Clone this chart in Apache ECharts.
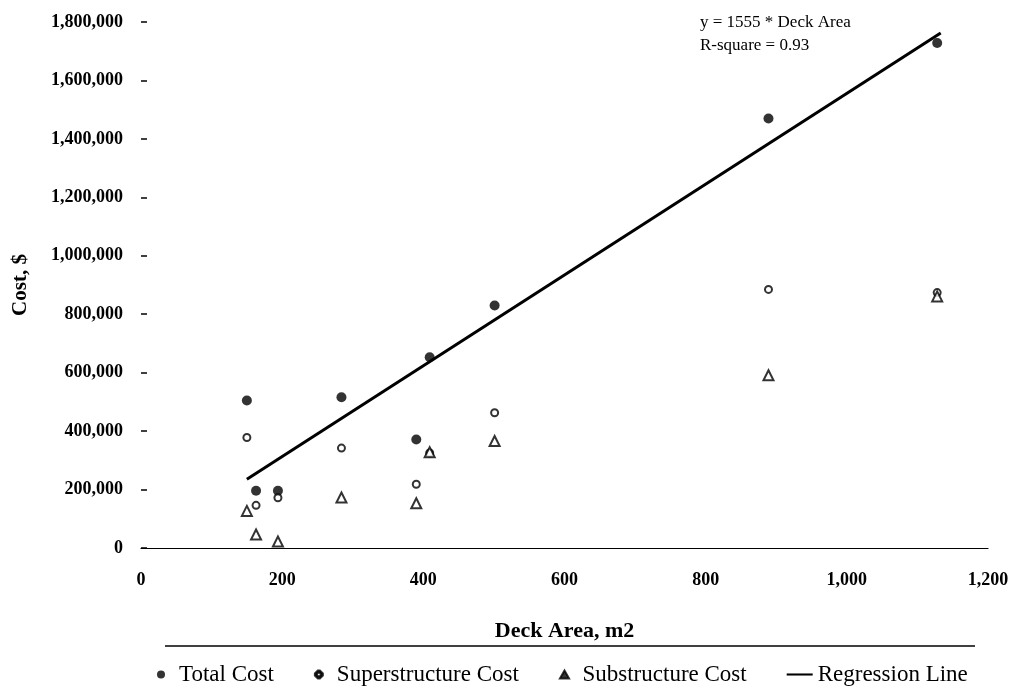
<!DOCTYPE html>
<html>
<head>
<meta charset="utf-8">
<script src="https://cdn.jsdelivr.net/npm/echarts@6/dist/echarts.min.js"></script>
<style>
html,body{margin:0;padding:0;background:#fff;}
#chart{width:1019px;height:691px;}
</style>
</head>
<body>
<div id="chart"></div>
<script>
// ---- data ----
const deckArea      = [150, 163, 194, 284, 390, 409, 501, 889, 1128];
const totalCost     = [505000, 196000, 196000, 516000, 371000, 653000, 830000, 1470000, 1728000];
const superCost     = [378000, 146000, 172000, 342000, 218000, 325000, 463000, 885000, 874000];
const subCost       = [127000, 46000, 22000, 173000, 153000, 328000, 366000, 591000, 861000];
const regressionX   = [150, 1133];
const regressionY   = [235000, 1762000];
const seriesNames   = ['Total Cost', 'Superstructure Cost', 'Substructure Cost', 'Regression Line'];
const annotation    = ['y = 1555 * Deck Area', 'R-square = 0.93'];

const pairs = (xs, ys) => xs.map((x, i) => [x, ys[i]]);
const FONT = '"Liberation Serif", "DejaVu Serif", serif';
const RING = 'path://M3,0 L5,0 L8,3 L8,5 L5,8 L3,8 L0,5 L0,3 Z M3.4,2.2 L2.2,3.4 L2.2,4.6 L3.4,5.8 L4.6,5.8 L5.8,4.6 L5.8,3.4 L4.6,2.2 Z';

const chart = echarts.init(document.getElementById('chart'), null, {renderer: 'canvas'});
chart.setOption({
  backgroundColor: '#fff',
  animation: false,
  textStyle: {fontFamily: FONT, color: '#000'},
  grid: {left: 141, right: 31, top: 22, bottom: 143, containLabel: false},
  xAxis: {
    type: 'value', min: 0, max: 1200, interval: 200,
    name: 'Deck Area, m2', nameLocation: 'middle', nameGap: 72,
    nameTextStyle: {fontFamily: FONT, fontSize: 22, fontWeight: 'bold', color: '#000'},
    axisLine: {show: true, lineStyle: {color: '#000', width: 1.2}},
    axisTick: {show: false},
    splitLine: {show: false},
    axisLabel: {fontFamily: FONT, fontSize: 18, fontWeight: 'bold', color: '#000', margin: 23,
      formatter: v => v.toLocaleString('en-US')}
  },
  yAxis: {
    type: 'value', min: 0, max: 1800000, interval: 200000,
    name: 'Cost, $', nameLocation: 'middle', nameGap: 110,
    nameTextStyle: {fontFamily: FONT, fontSize: 21, fontWeight: 'bold', color: '#000'},
    axisLine: {show: false},
    axisTick: {show: true, length: 6, inside: true, lineStyle: {color: '#000', width: 1.5}},
    splitLine: {show: false},
    axisLabel: {fontFamily: FONT, fontSize: 18, fontWeight: 'bold', color: '#000', margin: 18,
      formatter: v => v.toLocaleString('en-US')}
  },
  legend: {
    bottom: 0, left: 152, itemGap: 40, itemWidth: 26, itemHeight: 8,
    textStyle: {fontFamily: FONT, fontSize: 23, color: '#000'},
    data: [
      {name: seriesNames[0], icon: 'circle', itemStyle: {color: '#000'}},
      {name: seriesNames[1], icon: RING, itemStyle: {color: '#000'}},
      {name: seriesNames[2], icon: 'path://M4,0 L8,7 L0,7 Z', itemStyle: {color: '#000'}},
      {name: seriesNames[3], icon: 'path://M0,0 L30,0 L30,2.4 L0,2.4 Z', itemStyle: {color: '#000'}}
    ]
  },
  graphic: [
    {type: 'line', shape: {x1: 165, y1: 646, x2: 975, y2: 646}, style: {stroke: '#000', lineWidth: 1.5}},
    {type: 'text', left: 700, top: 14, style: {text: annotation[0], font: '17px ' + FONT, fill: '#000'}},
    {type: 'text', left: 700, top: 37, style: {text: annotation[1], font: '17px ' + FONT, fill: '#000'}}
  ],
  series: [
    {name: seriesNames[3], type: 'line', data: pairs(regressionX, regressionY), symbol: 'none',
      lineStyle: {color: '#000', width: 3}, itemStyle: {color: '#000'}, z: 1},
    {name: seriesNames[0], type: 'scatter', data: pairs(deckArea, totalCost), symbol: 'circle', symbolSize: 10,
      itemStyle: {color: '#000'}, z: 3},
    {name: seriesNames[1], type: 'scatter', data: pairs(deckArea, superCost), symbol: 'emptyCircle', symbolSize: 7,
      itemStyle: {color: '#000', borderColor: '#000', borderWidth: 2.5}, z: 3},
    {name: seriesNames[2], type: 'scatter', data: pairs(deckArea, subCost), symbol: 'emptyTriangle', symbolSize: 10,
      itemStyle: {color: '#000', borderColor: '#000', borderWidth: 2.5}, z: 3}
  ]
});
</script>
</body>
</html>
